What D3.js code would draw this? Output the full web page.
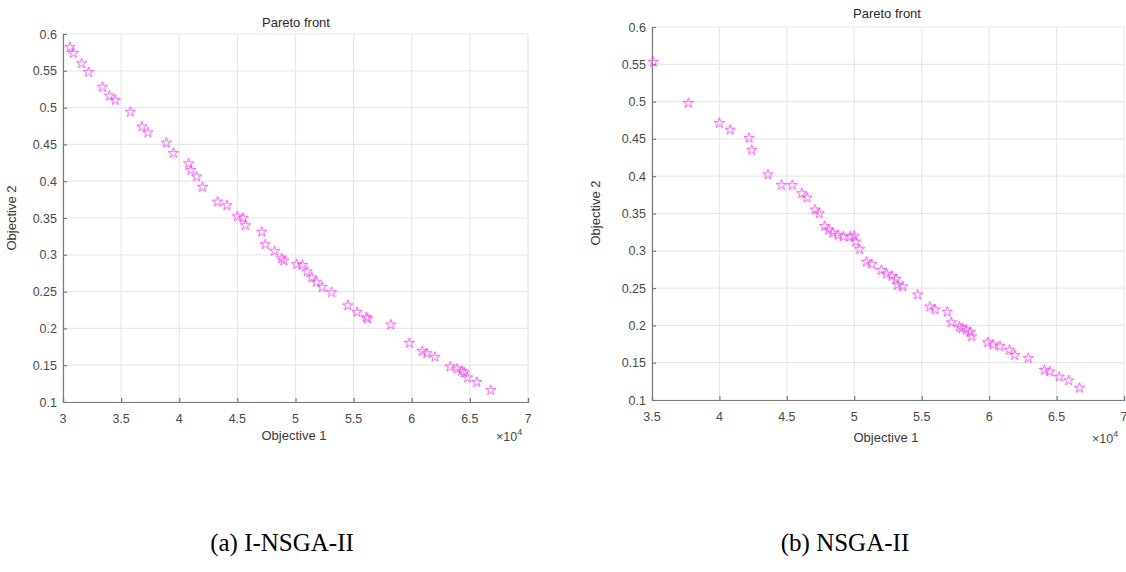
<!DOCTYPE html>
<html>
<head>
<meta charset="utf-8">
<script src="https://cdn.jsdelivr.net/npm/d3@7/dist/d3.min.js"></script>
<style>
  html, body { margin: 0; padding: 0; background: #fff; }
  svg { display: block; }
  .tick-label { font-family: "Liberation Sans", Arial, sans-serif; font-size: 12.5px; fill: #4a4a4a; }
  .axis-title { font-family: "Liberation Sans", Arial, sans-serif; font-size: 13px; fill: #3a3a3a; }
  .chart-title { font-family: "Liberation Sans", Arial, sans-serif; font-size: 13px; fill: #2a2a2a; }
  .caption { font-family: "Liberation Serif", "Times New Roman", serif; font-size: 25px; fill: #000; }
</style>
</head>
<body>
<svg id="chart" width="1126" height="572"></svg>
<script>
  // panel (a) I-NSGA-II: objective 1 (x10^4), objective 2
  var inObj1 = [3.06, 3.09, 3.16, 3.22, 3.34, 3.40, 3.45, 3.58, 3.68, 3.73, 3.89, 3.95,
    4.08, 4.10, 4.15, 4.20, 4.33, 4.41, 4.50, 4.55, 4.57, 4.71, 4.74, 4.82, 4.88, 4.90,
    5.01, 5.06, 5.10, 5.14, 5.18, 5.23, 5.31, 5.45, 5.53, 5.61, 5.62, 5.82, 5.98, 6.09,
    6.13, 6.20, 6.33, 6.39, 6.43, 6.45, 6.48, 6.56, 6.68];
  var inObj2 = [0.582, 0.574, 0.560, 0.548, 0.528, 0.516, 0.510, 0.494, 0.474, 0.466, 0.452, 0.438,
    0.424, 0.415, 0.406, 0.392, 0.372, 0.367, 0.352, 0.350, 0.340, 0.331, 0.314, 0.305, 0.295, 0.292,
    0.287, 0.286, 0.277, 0.269, 0.263, 0.256, 0.249, 0.231, 0.222, 0.215, 0.213, 0.205, 0.180, 0.169,
    0.166, 0.161, 0.148, 0.145, 0.142, 0.140, 0.133, 0.127, 0.116];

  // panel (b) NSGA-II
  var nsObj1 = [3.51, 3.77, 4.00, 4.08, 4.22, 4.24, 4.36, 4.46, 4.54, 4.61, 4.65, 4.71, 4.74,
    4.78, 4.81, 4.84, 4.88, 4.92, 4.97, 5.00, 5.01, 5.04, 5.09, 5.13, 5.20, 5.24, 5.28,
    5.31, 5.32, 5.36, 5.47, 5.56, 5.60, 5.69, 5.72, 5.78, 5.80, 5.83, 5.86, 5.87, 5.99,
    6.03, 6.08, 6.15, 6.19, 6.29, 6.41, 6.45, 6.52, 6.59, 6.67];
  var nsObj2 = [0.553, 0.498, 0.471, 0.462, 0.451, 0.435, 0.402, 0.388, 0.388, 0.377, 0.371, 0.355, 0.350,
    0.333, 0.328, 0.324, 0.321, 0.319, 0.319, 0.320, 0.312, 0.302, 0.285, 0.282, 0.274, 0.269, 0.266,
    0.262, 0.254, 0.252, 0.241, 0.225, 0.221, 0.218, 0.204, 0.198, 0.196, 0.194, 0.191, 0.185, 0.177,
    0.174, 0.172, 0.167, 0.160, 0.156, 0.140, 0.138, 0.131, 0.126, 0.116];

  var xTicksA = [3, 3.5, 4, 4.5, 5, 5.5, 6, 6.5, 7];
  var xTicksB = [3.5, 4, 4.5, 5, 5.5, 6, 6.5, 7];
  var yTicks = [0.1, 0.15, 0.2, 0.25, 0.3, 0.35, 0.4, 0.45, 0.5, 0.55, 0.6];

  var svg = d3.select('#chart');
  var fmt = function (v) { return String(v); };

  function drawPanel(cfg) {
    var g = svg.append('g');
    var x = d3.scaleLinear().domain(cfg.xDomain).range([cfg.left, cfg.right]);
    var y = d3.scaleLinear().domain([0.1, 0.6]).range([cfg.bottom, cfg.top]);

    // grid
    g.append('g').selectAll('line').data(cfg.xTicks).enter().append('line')
      .attr('x1', function (d) { return x(d); }).attr('x2', function (d) { return x(d); })
      .attr('y1', cfg.top).attr('y2', cfg.bottom)
      .attr('stroke', '#e8e8e8').attr('stroke-width', 1.2);
    g.append('g').selectAll('line').data(yTicks).enter().append('line')
      .attr('y1', function (d) { return y(d); }).attr('y2', function (d) { return y(d); })
      .attr('x1', cfg.left).attr('x2', cfg.right)
      .attr('stroke', '#e8e8e8').attr('stroke-width', 1.2);

    // axes (left + bottom only, ticks inward)
    var xAxis = g.append('g').attr('transform', 'translate(0,' + cfg.bottom + ')')
      .call(d3.axisTop(x).tickValues(cfg.xTicks).tickSize(4).tickFormat(''));
    var yAxis = g.append('g').attr('transform', 'translate(' + cfg.left + ',0)')
      .call(d3.axisRight(y).tickValues(yTicks).tickSize(4).tickFormat(''));
    [xAxis, yAxis].forEach(function (a) {
      a.selectAll('path,line').attr('stroke', '#7a7a7a').attr('stroke-width', 1.2);
    });

    g.append('g').selectAll('text').data(cfg.xTicks).enter().append('text')
      .attr('class', 'tick-label')
      .attr('x', function (d) { return x(d); })
      .attr('y', cfg.bottom + 21)
      .attr('text-anchor', 'middle')
      .text(fmt);
    g.append('g').selectAll('text').data(yTicks).enter().append('text')
      .attr('class', 'tick-label')
      .attr('x', cfg.left - 6)
      .attr('y', function (d) { return y(d) + 4.5; })
      .attr('text-anchor', 'end')
      .text(fmt);

    // points
    var pts = cfg.xs.map(function (v, i) { return [v, cfg.ys[i]]; });
    g.append('g').selectAll('circle').data(pts).enter().append('circle')
      .attr('cx', function (d) { return x(d[0]); })
      .attr('cy', function (d) { return y(d[1]); })
      .attr('r', 6)
      .attr('fill', '#ff70ff').attr('opacity', 0.12);
    var star = d3.symbol().type(d3.symbolStar).size(32);
    g.append('g').selectAll('path').data(pts).enter().append('path')
      .attr('d', star)
      .attr('transform', function (d) { return 'translate(' + x(d[0]) + ',' + y(d[1]) + ')'; })
      .attr('fill', 'none')
      .attr('stroke', '#e040e0')
      .attr('stroke-width', 0.9)
      .attr('opacity', 0.7);

    // titles
    svg.append('text').attr('class', 'chart-title')
      .attr('x', cfg.titleX).attr('y', cfg.titleY)
      .attr('text-anchor', 'middle').text('Pareto front');
    svg.append('text').attr('class', 'axis-title')
      .attr('x', cfg.xLabelX).attr('y', cfg.xLabelY)
      .attr('text-anchor', 'middle').text('Objective 1');
    var ex = svg.append('text').attr('class', 'tick-label')
      .attr('x', cfg.expX).attr('y', cfg.xLabelY + 1);
    ex.append('tspan').text('\u00d710');
    ex.append('tspan').attr('dy', -6).attr('font-size', '9px').text('4');
    svg.append('text').attr('class', 'axis-title')
      .attr('transform', 'translate(' + cfg.yLabelX + ',' + cfg.yLabelY + ') rotate(-90)')
      .attr('text-anchor', 'middle').text('Objective 2');
    svg.append('text').attr('class', 'caption')
      .attr('x', cfg.capX).attr('y', 551)
      .attr('text-anchor', 'middle').text(cfg.caption);
  }

  drawPanel({
    xs: inObj1, ys: inObj2, xDomain: [3, 7], xTicks: xTicksA,
    left: 63, right: 528, top: 34, bottom: 402,
    titleX: 296, titleY: 27, xLabelX: 294, xLabelY: 440, expX: 496,
    yLabelX: 16, yLabelY: 218, capX: 282, caption: '(a) I-NSGA-II'
  });
  drawPanel({
    xs: nsObj1, ys: nsObj2, xDomain: [3.5, 7], xTicks: xTicksB,
    left: 652, right: 1124, top: 27, bottom: 400,
    titleX: 887, titleY: 18, xLabelX: 886, xLabelY: 442, expX: 1092,
    yLabelX: 600, yLabelY: 213, capX: 845, caption: '(b) NSGA-II'
  });
</script>
</body>
</html>
